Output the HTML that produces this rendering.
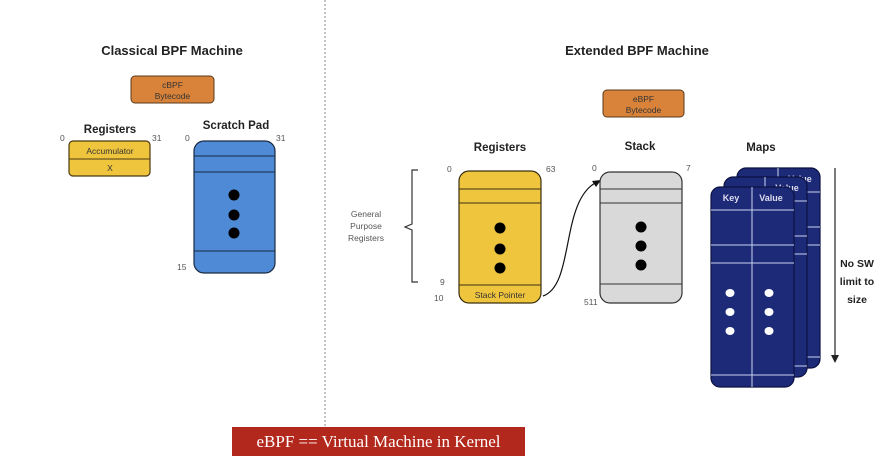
<!DOCTYPE html>
<html><head><style>
html,body{margin:0;padding:0;background:#fff;width:891px;height:462px;overflow:hidden}
svg{display:block}
text{font-family:"Liberation Sans",Arial,sans-serif}
</style></head><body>
<svg width="891" height="462" viewBox="0 0 891 462" xmlns="http://www.w3.org/2000/svg">
<line x1="325" y1="0" x2="325" y2="426" stroke="#888" stroke-width="1" stroke-dasharray="2,2"/>
<!-- Classical -->
<text x="172" y="55" font-size="13" font-weight="bold" text-anchor="middle" fill="#222">Classical BPF Machine</text>
<rect x="131" y="76" width="83" height="27" rx="4" fill="#d9833a" stroke="#5a3a1a" stroke-width="1"/>
<text x="172.5" y="88" font-size="8.5" text-anchor="middle" fill="#333">cBPF</text>
<text x="172.5" y="99" font-size="8.5" text-anchor="middle" fill="#333">Bytecode</text>
<text x="110" y="133" font-size="11.5" font-weight="bold" text-anchor="middle" fill="#222">Registers</text>
<text x="60" y="141" font-size="8.5" fill="#555">0</text>
<text x="152" y="141" font-size="8.5" fill="#555">31</text>
<rect x="69" y="141" width="81" height="35" rx="4" fill="#f0c53e" stroke="#4a3a10" stroke-width="1.2"/>
<line x1="69" y1="159" x2="150" y2="159" stroke="#4a3a10" stroke-width="1"/>
<text x="110" y="154" font-size="8.5" text-anchor="middle" fill="#333">Accumulator</text>
<text x="110" y="171" font-size="8.5" text-anchor="middle" fill="#333">X</text>
<text x="236" y="129" font-size="11.5" font-weight="bold" text-anchor="middle" fill="#222">Scratch Pad</text>
<text x="185" y="141" font-size="8.5" fill="#555">0</text>
<text x="276" y="141" font-size="8.5" fill="#555">31</text>
<rect x="194" y="141" width="81" height="132" rx="10" fill="#4f8ad7" stroke="#1a2a40" stroke-width="1.2"/>
<line x1="194" y1="156" x2="275" y2="156" stroke="#1a2a40"/>
<line x1="194" y1="172" x2="275" y2="172" stroke="#1a2a40"/>
<line x1="194" y1="251" x2="275" y2="251" stroke="#1a2a40"/>
<circle cx="234" cy="195" r="5.5" fill="#000"/><circle cx="234" cy="215" r="5.5" fill="#000"/><circle cx="234" cy="233" r="5.5" fill="#000"/>
<text x="177" y="270" font-size="8.5" fill="#555">15</text>
<!-- Extended -->
<text x="637" y="55" font-size="13" font-weight="bold" text-anchor="middle" fill="#222">Extended BPF Machine</text>
<rect x="603" y="90" width="81" height="27" rx="4" fill="#d9833a" stroke="#5a3a1a" stroke-width="1"/>
<text x="643.5" y="102" font-size="8.5" text-anchor="middle" fill="#333">eBPF</text>
<text x="643.5" y="113" font-size="8.5" text-anchor="middle" fill="#333">Bytecode</text>
<text x="500" y="151" font-size="11.5" font-weight="bold" text-anchor="middle" fill="#222">Registers</text>
<text x="640" y="150" font-size="11.5" font-weight="bold" text-anchor="middle" fill="#222">Stack</text>
<text x="761" y="151" font-size="11.5" font-weight="bold" text-anchor="middle" fill="#222">Maps</text>
<text x="447" y="172" font-size="8.5" fill="#555">0</text>
<text x="546" y="172" font-size="8.5" fill="#555">63</text>
<text x="440" y="285" font-size="8.5" fill="#555">9</text>
<text x="434" y="301" font-size="8.5" fill="#555">10</text>
<path d="M418,170 L412,170 L412,224 L405,227 L412,230 L412,282 L418,282" fill="none" stroke="#333" stroke-width="1.2"/>
<text x="366" y="217" font-size="8.5" text-anchor="middle" fill="#555">General</text>
<text x="366" y="229" font-size="8.5" text-anchor="middle" fill="#555">Purpose</text>
<text x="366" y="241" font-size="8.5" text-anchor="middle" fill="#555">Registers</text>
<rect x="459" y="171" width="82" height="132" rx="10" fill="#f0c53e" stroke="#3a3010" stroke-width="1.2"/>
<line x1="459" y1="189" x2="541" y2="189" stroke="#3a3010"/>
<line x1="459" y1="203" x2="541" y2="203" stroke="#3a3010"/>
<line x1="459" y1="285" x2="541" y2="285" stroke="#3a3010"/>
<circle cx="500" cy="228" r="5.5" fill="#000"/><circle cx="500" cy="249" r="5.5" fill="#000"/><circle cx="500" cy="268" r="5.5" fill="#000"/>
<text x="500" y="298" font-size="8.5" text-anchor="middle" fill="#333">Stack Pointer</text>
<path d="M543,296 C575,285 560,200 597,182" fill="none" stroke="#111" stroke-width="1.2"/>
<polygon points="601,180 592,181 596,187" fill="#111"/>
<text x="592" y="171" font-size="8.5" fill="#555">0</text>
<text x="686" y="171" font-size="8.5" fill="#555">7</text>
<text x="584" y="305" font-size="8.5" fill="#555">511</text>
<rect x="600" y="172" width="82" height="131" rx="10" fill="#d9d9d9" stroke="#333" stroke-width="1.2"/>
<line x1="600" y1="189" x2="682" y2="189" stroke="#333"/>
<line x1="600" y1="203" x2="682" y2="203" stroke="#333"/>
<line x1="600" y1="284" x2="682" y2="284" stroke="#333"/>
<circle cx="641" cy="227" r="5.5" fill="#000"/><circle cx="641" cy="246" r="5.5" fill="#000"/><circle cx="641" cy="265" r="5.5" fill="#000"/>
<!-- Maps cards -->
<g>
<rect x="737" y="168" width="83" height="200" rx="9" fill="#1d2a78" stroke="#0b1240" stroke-width="1.2"/>
<line x1="778" y1="168" x2="778" y2="368" stroke="#c9d4f0"/>
<line x1="737" y1="192" x2="820" y2="192" stroke="#c9d4f0"/>
<line x1="737" y1="227" x2="820" y2="227" stroke="#c9d4f0"/>
<line x1="737" y1="245" x2="820" y2="245" stroke="#c9d4f0"/>
<line x1="737" y1="357" x2="820" y2="357" stroke="#c9d4f0"/>
<text x="800" y="182" font-size="9" font-weight="bold" text-anchor="middle" fill="#dde">Value</text>
</g>
<g>
<rect x="724" y="177" width="83" height="200" rx="9" fill="#1d2a78" stroke="#0b1240" stroke-width="1.2"/>
<line x1="765" y1="177" x2="765" y2="377" stroke="#c9d4f0"/>
<line x1="724" y1="201" x2="807" y2="201" stroke="#c9d4f0"/>
<line x1="724" y1="236" x2="807" y2="236" stroke="#c9d4f0"/>
<line x1="724" y1="254" x2="807" y2="254" stroke="#c9d4f0"/>
<line x1="724" y1="366" x2="807" y2="366" stroke="#c9d4f0"/>
<text x="787" y="191" font-size="9" font-weight="bold" text-anchor="middle" fill="#dde">Value</text>
</g>
<g>
<rect x="711" y="187" width="83" height="200" rx="9" fill="#1d2a78" stroke="#0b1240" stroke-width="1.2"/>
<line x1="752" y1="187" x2="752" y2="387" stroke="#c9d4f0"/>
<line x1="711" y1="210" x2="794" y2="210" stroke="#c9d4f0"/>
<line x1="711" y1="245" x2="794" y2="245" stroke="#c9d4f0"/>
<line x1="711" y1="263" x2="794" y2="263" stroke="#c9d4f0"/>
<line x1="711" y1="375" x2="794" y2="375" stroke="#c9d4f0"/>
<text x="731" y="201" font-size="9" font-weight="bold" text-anchor="middle" fill="#dde">Key</text>
<text x="771" y="201" font-size="9" font-weight="bold" text-anchor="middle" fill="#dde">Value</text>
<ellipse cx="730" cy="293" rx="4.5" ry="4" fill="#fff"/><ellipse cx="730" cy="312" rx="4.5" ry="4" fill="#fff"/><ellipse cx="730" cy="331" rx="4.5" ry="4" fill="#fff"/>
<ellipse cx="769" cy="293" rx="4.5" ry="4" fill="#fff"/><ellipse cx="769" cy="312" rx="4.5" ry="4" fill="#fff"/><ellipse cx="769" cy="331" rx="4.5" ry="4" fill="#fff"/>
</g>
<line x1="835" y1="168" x2="835" y2="356" stroke="#222" stroke-width="1.2"/>
<polygon points="831,355 839,355 835,363" fill="#222"/>
<text x="857" y="267" font-size="10.5" font-weight="bold" text-anchor="middle" fill="#222">No SW</text>
<text x="857" y="285" font-size="10.5" font-weight="bold" text-anchor="middle" fill="#222">limit to</text>
<text x="857" y="303" font-size="10.5" font-weight="bold" text-anchor="middle" fill="#222">size</text>
<!-- bottom label -->
<rect x="232" y="427" width="293" height="29" fill="#b3281c"/>
<text x="378.5" y="447" font-size="17" text-anchor="middle" fill="#fff" style="font-family:'Liberation Serif',serif">eBPF == Virtual Machine in Kernel</text>
</svg>
</body></html>
